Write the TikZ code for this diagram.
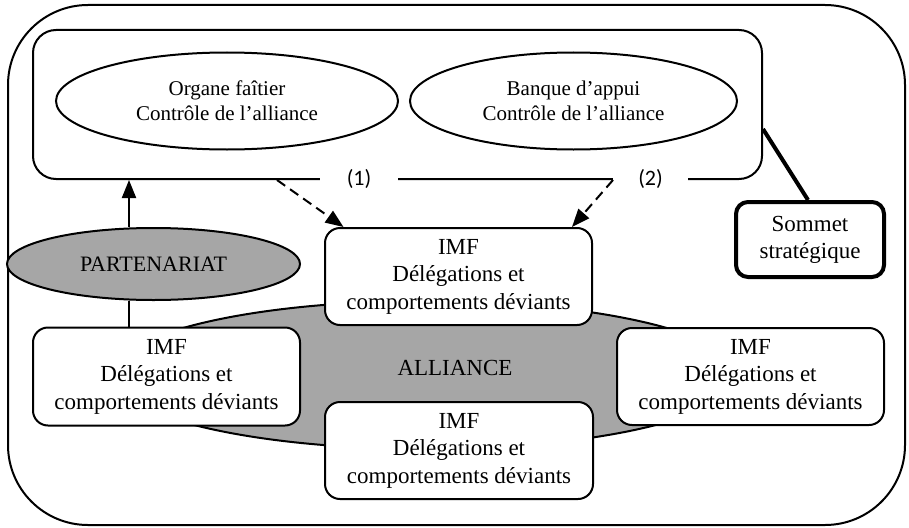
\documentclass[tikz,border=0pt]{standalone}
\usepackage{fontspec}
\setmainfont{Liberation Serif}
\newfontfamily\calib{Carlito}
\usetikzlibrary{shapes.geometric,arrows.meta}
\definecolor{fillgray}{RGB}{166,166,166}
\begin{document}
\begin{tikzpicture}[x=1pt,y=-1pt,
  base/.style={draw=black,line width=2pt,inner sep=0pt,align=center,
    font=\fontsize{23}{27.5}\selectfont},
  imfbox/.style={base,rectangle,rounded corners=15pt,fill=white,
    minimum width=267pt,minimum height=97pt},
  ctrlell/.style={base,ellipse,fill=white,minimum height=97pt,
    font=\fontsize{21}{25}\selectfont},
  grayell/.style={base,ellipse,fill=fillgray},
  numlab/.style={fill=white,inner sep=0pt,minimum height=8pt,
    font=\calib\fontsize{22}{24}\selectfont},
  arr/.style={line width=2pt,-{Triangle[length=18pt,width=14pt]}},
  dasharr/.style={arr,dash pattern=on 10pt off 6pt},
  thickline/.style={line width=4pt}
]
\useasboundingbox (0,0) rectangle (909,527);

% outer frame
\node[base,rectangle,rounded corners=80pt,minimum width=897pt,minimum height=520pt] (outer) at (456.5,265) {};

% alliance ellipse (behind the boxes)
\node[grayell,minimum width=626pt,minimum height=148pt] (alliance) at (425,375) {};
\node[font=\fontsize{23}{27.5}\selectfont,inner sep=0pt] (alliancetxt) at (455,368) {ALLIANCE};

% IMF boxes
\node[imfbox] (imfT) at (458.5,276.5) {IMF\\Délégations et\\comportements déviants};
\node[imfbox,minimum height=98pt] (imfL) at (166.5,376.5) {IMF\\Délégations et\\comportements déviants};
\node[imfbox] (imfR) at (750.5,376.5) {IMF\\Délégations et\\comportements déviants};
\node[imfbox,minimum width=268pt] (imfB) at (459,450.5) {IMF\\Délégations et\\comportements déviants};

% control frame
\node[base,rectangle,rounded corners=23pt,minimum width=729pt,minimum height=149pt] (ctrl) at (397.5,104.5) {};
\node[ctrlell,minimum width=342pt] (ell1) at (227,101) {Organe faîtier\\Contrôle de l’alliance};
\node[ctrlell,minimum width=327pt] (ell2) at (573.5,101) {Banque d’appui\\Contrôle de l’alliance};

% numbered gaps in the bottom edge
\node[numlab,minimum width=78pt] (n1) at (359,179) {(1)};
\node[numlab,minimum width=75pt] (n2) at (650.5,179) {(2)};

% partenariat
\node[grayell,minimum width=293pt,minimum height=72pt,font=\fontsize{22}{26}\selectfont] (part) at (153.5,264) {PARTENARIAT};

% sommet strategique
\node[base,rectangle,rounded corners=12pt,line width=4pt,fill=white,
  minimum width=148pt,minimum height=75pt,font=\fontsize{23}{27}\selectfont] (sommet) at (810,239.5) {Sommet\\stratégique};

% connectors
\draw[arr] ([xshift=-24.5pt]part.north) -- ([xshift=-24.5pt]part.north |- ctrl.south);
\draw[line width=2pt] ([xshift=-24.5pt]part.south) -- ([xshift=-24.5pt]part.south |- imfL.north);
\draw[dasharr] ([xshift=-120.5pt]ctrl.south) -- ([xshift=-115pt]imfT.north);
\draw[dasharr] ([xshift=215.5pt]ctrl.south) -- ([xshift=113.5pt]imfT.north);
\draw[thickline] ([yshift=-24.5pt]ctrl.east) -- ([xshift=-2pt]sommet.north);
\end{tikzpicture}
\end{document}
